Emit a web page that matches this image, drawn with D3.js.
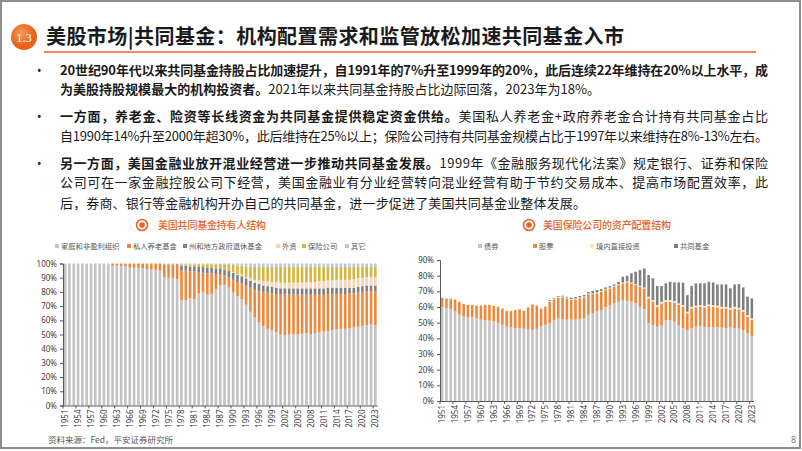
<!DOCTYPE html>
<html><head><meta charset="utf-8">
<script src="https://cdn.jsdelivr.net/npm/d3@7/dist/d3.min.js"></script>
<style>body{margin:0;background:#fff}svg{display:block}</style>
</head><body><svg id="s" width="802" height="451"></svg>
<script>
// ---------- DATA ----------
const years = [1951,1952,1953,1954,1955,1956,1957,1958,1959,1960,1961,1962,1963,1964,1965,1966,1967,1968,1969,1970,1971,1972,1973,1974,1975,1976,1977,1978,1979,1980,1981,1982,1983,1984,1985,1986,1987,1988,1989,1990,1991,1992,1993,1994,1995,1996,1997,1998,1999,2000,2001,2002,2003,2004,2005,2006,2007,2008,2009,2010,2011,2012,2013,2014,2015,2016,2017,2018,2019,2020,2021,2022,2023];
const tickYears = [1951,1954,1957,1960,1963,1966,1969,1972,1975,1978,1981,1984,1987,1990,1993,1996,1999,2002,2005,2008,2011,2014,2017,2020,2023];
const leftTicks = [0,10,20,30,40,50,60,70,80,90,100];
const rightTicks = [0,10,20,30,40,50,60,70,80,90];

// Left chart: holders of US mutual funds (%)
const household = [100,100,100,100,100,100,100,100,100,100,100,98.5,98.5,98,98,97.5,97,97,96.5,96,96,95.5,95,90,90,89.5,89,74,74,75.5,75,79,80,78,78.5,82,84.5,85,83,79.5,77,75,71,66,62,58.5,56,54,53,51.5,50,49.5,50,50,50,50.5,51,50,51,51.5,52,52.5,53,53.5,54,54,54.5,55,55.5,56,56.5,57,56.5];
const privatePension = [0,0,0,0,0,0,0,0,0,0,0,1.5,1.5,2,2,2.5,3,3,3.5,4,4,4.5,5,9.5,9.5,10,10,21,21,19,19.5,14.5,13.5,15,14.5,10.5,8,6.5,7.5,9,10,11,13.5,17,19.5,22,24,25.5,26,27,28,28.5,28,28,28,27.5,27,28,27,26.5,26,26,25.5,25,24.5,24.5,24.5,24,24,24,24,23.5,24];
const stateLocal = [0,0,0,0,0,0,0,0,0,0,0,0,0,0,0,0,0,0,0,0,0,0,0,0,0,0,0.5,3.5,3.5,3.5,3.5,4,4,4,4,4,4,4,4.5,5,5,5,5,5,5,5,4.5,4.5,4.5,4.5,4.5,4.5,4.5,4.5,4.5,4.5,4.5,4.5,4.5,4.5,4.5,4.5,4.5,4.5,4.5,4.5,4,4,4,4,4,4,4];
const foreignH = [0,0,0,0,0,0,0,0,0,0,0,0,0,0,0,0,0,0,0,0,0,0,0,0,0,0,0,0,0,0,0,0,0,0,0,0,0,0,0,0.5,0.5,1,1,1.5,2,2.5,3,3.5,3.5,4,4,4,4,4,4,4,4.5,4.5,4.5,5,5,5,5,5.5,5.5,5.5,5.5,6,6,6,6,6,6];
const insuranceH = [0,0,0,0,0,0,0,0,0,0,0,0,0,0,0,0,0,0,0,0,0,0,0,0,0,0,0,1,1,1.5,1.5,2,2,2.5,2.5,3,3,3.5,4,5,6,6.5,7.5,8.5,9,9.5,10,10,10.5,10.5,11,11,11,11,11,11,10.5,10.5,10.5,10,10,9.5,9.5,9,9,9,9,8.5,8,7.5,7,7,7];
const otherH = [0,0,0,0,0,0,0,0,0,0,0,0,0,0,0,0,0,0,0,0,0,0,0,0.5,0.5,0.5,0.5,0.5,0.5,0.5,0.5,0.5,0.5,0.5,0.5,0.5,0.5,1,1,1,1.5,1.5,2,2,2.5,2.5,2.5,2.5,2.5,2.5,2.5,2.5,2.5,2.5,2.5,2.5,2.5,2.5,2.5,2.5,2.5,2.5,2.5,2.5,2.5,2.5,2.5,2.5,2.5,2.5,2.5,2.5,2.5];
const leftNames = ["家庭和非盈利组织","私人养老基金","州和地方政府退休基金","外资","保险公司","其它"];

// Right chart: US insurance company asset allocation (%)
const bonds = [59.8,59.2,58.6,57.5,55,54,53.6,53.4,52.8,51.9,51.5,51.3,50.8,49.8,48.7,47.6,47.2,46.6,46.6,46.1,45.9,45.5,46.1,47.6,48.7,49.8,51.5,53,51.9,51.9,51.9,51.9,52.3,53,55,56.1,57.1,58.1,59.8,61.3,62.3,63.4,64.5,64,63.4,62.3,60.2,58.5,49.6,48.5,47.4,48.5,51.7,51.7,50.6,48.5,46.4,45.3,46.4,47.4,47.9,46.9,46.9,46.9,46.9,46.9,46.4,46.9,46.4,46.4,45.3,43.2,41.5];
const stocks = [6.1,6.3,6.7,7.4,8.4,7.9,7.7,7.9,8.2,9.1,9.8,10,9.8,10.4,10.4,10,10.2,11.4,11.9,11.5,13.9,16.2,14.9,11.5,11.5,13.6,13.4,12.9,14.3,13.6,12.6,13,13.2,13.2,13.1,12.1,11.6,11.7,11,10.6,10.7,10.6,10.6,11.7,11.7,11.7,12.8,13.4,15.9,14.9,12.8,13.8,11.7,11.7,12.1,12.8,13.8,10.7,12.7,12.4,12.3,12.9,13.7,13.3,12.9,12.2,12.7,11.6,12.7,12.1,11.8,10.6,10.2];
const directInv = [0.3,0.3,0.3,0.3,0.3,0.3,0.3,0.3,0.3,0.3,0.3,0.3,0.3,0.3,0.3,0.3,0.3,0.3,0.3,0.3,0.3,0.3,0.3,0.3,0.3,0.5,0.5,0.5,0.5,0.5,0.5,0.5,0.5,0.5,0.5,0.5,0.5,0.5,0.5,0.5,0.5,0.5,0.5,0.5,0.5,0.5,0.5,0.5,1,1,1,1,1,1,1,1,1,1,1,1,1,1,1,1,1,1,1,1,1,1,1,1,1];
const mutualFunds = [0,0,0,0,0,0,0,0,0,0,0,0,0,0,0,0,0,0,0,0,0,0,0,0,0,0.5,0.5,0.5,0.5,0.5,1,1,1,1,1,1.6,1.6,1.1,1.2,1,0.9,1.6,3.7,3.8,5.9,8,10.1,12.2,13.9,13.9,12.2,10.1,10.7,11.7,12,13.4,14.3,10.6,13.3,14.3,13.9,14.3,14.5,14.5,13.6,14.3,14.3,12.4,14.3,15.1,14.4,11.8,12.8];
const rightNames = ["债券","股票","境内直接投资","共同基金"];

const leftColors = ["#c3c3c3","#f0873a","#7f7f7f","#f9d3b8","#d7b43a","#b7c9e6"];
const rightColors = ["#c3c3c3","#f0873a","#fde9a6","#7f7f7f"];

// ---------- DRAW ----------
const svg = d3.select("#s");
const CJK = "'Noto Sans CJK SC','Noto Sans',sans-serif";
const NUM = "'Noto Sans','DejaVu Sans',sans-serif";

svg.append("rect").attr("x",1).attr("y",1).attr("width",799).attr("height",447)
  .attr("fill","#fff").attr("stroke","#8e8e8e").attr("stroke-width",2);

// fit a text element to a target visual width using letter-spacing
function fit(t, target) {
  const n = t.text().length;
  const w = t.node().getComputedTextLength();
  if (n > 1) t.attr("letter-spacing", ((target - w) / (n - 1)).toFixed(3));
}

// Header
const grad = svg.append("defs").append("radialGradient").attr("id","bg").attr("cx","40%").attr("cy","35%");
grad.append("stop").attr("offset","0%").attr("stop-color","#f79a5a");
grad.append("stop").attr("offset","100%").attr("stop-color","#e8601c");
svg.append("circle").attr("cx",24).attr("cy",37).attr("r",13).attr("fill","url(#bg)");
svg.append("text").attr("x",24).attr("y",41.5).attr("text-anchor","middle")
  .attr("font-family","'Liberation Serif',serif").attr("font-size",12.5).attr("fill","#fff").text("1.3");
const title = svg.append("text").attr("x",46).attr("y",44).attr("font-family",CJK).attr("font-weight",700)
  .attr("font-size",20).attr("fill","#1a1a1a")
  .text("美股市场|共同基金：机构配置需求和监管放松加速共同基金入市");
fit(title, 578);
svg.append("line").attr("x1",44).attr("x2",756).attr("y1",52).attr("y2",52)
  .attr("stroke","#ef8c62").attr("stroke-width",2);

// Bullets
const lines = [
  {y:75, w:708, parts:[["20世纪90年代以来共同基金持股占比加速提升，自1991年的7%升至1999年的20%，此后连续22年维持在20%以上水平，成",1]], bullet:true},
  {y:94, w:540, parts:[["为美股持股规模最大的机构投资者。",1],["2021年以来共同基金持股占比边际回落，2023年为18%。",0]]},
  {y:121, w:708, parts:[["一方面，养老金、险资等长线资金为共同基金提供稳定资金供给。",1],["美国私人养老金+政府养老金合计持有共同基金占比",0]], bullet:true},
  {y:140.5, w:708, parts:[["自1990年14%升至2000年超30%，此后维持在25%以上；保险公司持有共同基金规模占比于1997年以来维持在8%-13%左右。",0]]},
  {y:167.5, w:708, parts:[["另一方面，美国金融业放开混业经营进一步推动共同基金发展。",1],["1999年《金融服务现代化法案》规定银行、证券和保险",0]], bullet:true},
  {y:187, w:708, parts:[["公司可在一家金融控股公司下经营，美国金融业有分业经营转向混业经营有助于节约交易成本、提高市场配置效率，此",0]]},
  {y:207.5, w:526, parts:[["后，券商、银行等金融机构开办自己的共同基金，进一步促进了美国共同基金业整体发展。",0]]}
];
lines.forEach(l => {
  if (l.bullet) svg.append("text").attr("x",37).attr("y",l.y).attr("font-family",NUM).attr("font-size",12).attr("fill","#222").text("•");
  const t = svg.append("text").attr("x",60).attr("y",l.y).attr("font-family",CJK).attr("font-size",13)
    .attr("fill","#1a1a1a");
  l.parts.forEach(p => t.append("tspan").attr("font-weight",p[1]?700:400).text(p[0]));
  fit(t, l.w);
});

function chartTitle(cx, x, text, w) {
  svg.append("circle").attr("cx",cx).attr("cy",225).attr("r",5.5).attr("fill","none").attr("stroke","#e8632a").attr("stroke-width",1.6);
  svg.append("circle").attr("cx",cx).attr("cy",225).attr("r",2.8).attr("fill","#e8632a");
  const t = svg.append("text").attr("x",x).attr("y",228.5).attr("font-family",CJK).attr("font-size",10).attr("font-weight",500)
    .attr("fill","#e8632a").text(text);
  fit(t, w);
}
chartTitle(142, 158, "美国共同基金持有人结构", 108);
chartTitle(529, 543, "美国保险公司的资产配置结构", 128);

function legend(items, colors, xs) {
  items.forEach((n,i) => {
    svg.append("rect").attr("x",xs[i]).attr("y",244).attr("width",4).attr("height",4).attr("fill",colors[i]);
    svg.append("text").attr("x",xs[i]+6).attr("y",249).attr("font-family",CJK).attr("font-size",7.3).attr("fill","#595959").text(n);
  });
}
legend(leftNames, leftColors, [55,127,183,276,302,345]);
legend(rightNames, rightColors, [478,533,590,674]);

function stackedChart(opt) {
  const x = d3.scaleBand().domain(years).range([opt.x0, opt.x1]).paddingInner(0.4).paddingOuter(0.2);
  const y = d3.scaleLinear().domain([0, opt.max]).range([opt.yb, opt.yt]);
  const rows = years.map((yr,i) => { const r = {year:yr}; opt.keys.forEach((k,j)=> r[k] = opt.series[j][i]); return r; });
  const stack = d3.stack().keys(opt.keys)(rows);
  const g = svg.append("g");
  stack.forEach((layer,j) => {
    g.append("g").attr("fill",opt.colors[j]).selectAll("rect").data(layer).join("rect")
      .attr("x",d=>x(d.data.year)).attr("width",x.bandwidth())
      .attr("y",d=>y(Math.min(d[1],opt.max))).attr("height",d=>Math.max(0,y(d[0])-y(Math.min(d[1],opt.max))));
  });
  const ya = svg.append("g").attr("transform",`translate(${opt.x0},0)`)
    .call(d3.axisLeft(y).tickValues(opt.ticks).tickFormat(d=>d+"%").tickSize(3).tickPadding(3));
  ya.select(".domain").attr("stroke","#595959");
  ya.selectAll(".tick line").attr("stroke","#595959");
  ya.selectAll("text").attr("font-family",NUM).attr("font-size",8).attr("fill","#404040");
  const xa = svg.append("g").attr("transform",`translate(0,${opt.yb})`)
    .call(d3.axisBottom(x).tickValues(tickYears).tickSize(0).tickPadding(0));
  xa.select(".domain").attr("stroke","#595959").attr("d",`M${opt.x0},0.5H${opt.x1}`);
  xa.selectAll(".tick text").attr("font-family",NUM).attr("font-size",8).attr("fill","#404040")
    .attr("transform","rotate(-90)").attr("text-anchor","end").attr("dx","-4").attr("dy","3");
  const off = x.step()*0.2;
  svg.append("g").selectAll("line").data(tickYears).join("line")
    .attr("x1",d=>x(d)-off).attr("x2",d=>x(d)-off).attr("y1",opt.yb).attr("y2",opt.yb+3)
    .attr("stroke","#595959");
}

stackedChart({x0:63, x1:377.5, yb:405.5, yt:263.5, max:100, ticks:leftTicks,
  keys:["a","b","c","d","e","f"], series:[household,privatePension,stateLocal,foreignH,insuranceH,otherH], colors:leftColors});
stackedChart({x0:440, x1:754, yb:401, yt:260, max:90, ticks:rightTicks,
  keys:["a","b","c","d"], series:[bonds,stocks,directInv,mutualFunds], colors:rightColors});

svg.append("text").attr("x",48).attr("y",443).attr("font-family",CJK).attr("font-size",8.5).attr("fill","#595959").text("资料来源：Fed，平安证券研究所");
svg.append("text").attr("x",791).attr("y",443).attr("font-family",NUM).attr("font-size",9).attr("fill","#7f7f7f").text("8");
</script></body></html>
